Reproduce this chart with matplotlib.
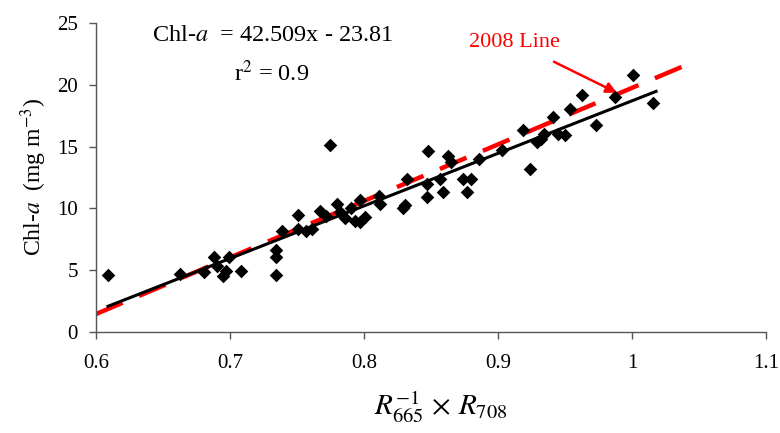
import matplotlib
matplotlib.use("Agg")
import matplotlib.pyplot as plt
import numpy as np

plt.rcParams['font.family'] = ['Liberation Serif', 'DejaVu Serif']
plt.rcParams['mathtext.fontset'] = 'stix'

# Data (ratio R665^-1 x R708, Chl-a mg m^-3)
ratio = [0.609, 0.663, 0.681, 0.688, 0.690, 0.695, 0.697, 0.699, 0.708,
         0.734, 0.734, 0.734, 0.739, 0.751, 0.751, 0.757, 0.761, 0.767,
         0.772, 0.775, 0.780, 0.782, 0.786, 0.790, 0.793, 0.797, 0.797,
         0.801, 0.811, 0.812, 0.829, 0.831, 0.832, 0.847, 0.847, 0.848,
         0.857, 0.859, 0.863, 0.865, 0.874, 0.877, 0.880, 0.886, 0.903,
         0.919, 0.924, 0.929, 0.932, 0.934, 0.941, 0.945, 0.950, 0.954,
         0.963, 0.973, 0.987, 1.001, 1.016]
chla = [4.65, 4.7, 4.86, 6.05, 5.3, 4.55, 4.9, 6.05, 4.95,
        6.6, 6.05, 4.65, 8.2, 9.5, 8.3, 8.2, 8.35, 9.8,
        9.4, 15.1, 10.35, 9.7, 9.2, 10.0, 9.0, 10.65, 8.9,
        9.3, 11.0, 10.35, 10.0, 10.3, 12.4, 11.95, 10.95, 14.65,
        12.4, 11.3, 14.25, 13.75, 12.4, 11.3, 12.4, 14.0, 14.7,
        16.3, 13.2, 15.35, 15.6, 16.0, 17.4, 16.0, 15.9, 18.05,
        19.2, 16.75, 19.0, 20.8, 18.5]

fit_slope, fit_intercept = 42.509, -23.81
fit_range = [0.609, 1.018]
line2008_x = [0.60, 1.046]
line2008_y = [1.45, 21.85]

fig = plt.figure(figsize=(7.8, 4.33), dpi=100)
ax = fig.add_axes([0.123, 0.2333, 0.859, 0.7137])

ax.plot(line2008_x, line2008_y, color='#ff0000', lw=3.2, dashes=(6.5, 4.0),
        solid_capstyle='butt', dash_capstyle='butt', zorder=2)
fx = np.array(fit_range)
ax.plot(fx, fit_slope * fx + fit_intercept, color='black', lw=2.2, zorder=3)
ax.scatter(ratio, chla, marker='D', s=48, color='black', zorder=4, linewidths=0)

ax.set_xlim(0.6, 1.1)
ax.set_ylim(0, 25)
ax.set_xticks([0.6, 0.7, 0.8, 0.9, 1.0, 1.1])
ax.set_xticklabels(['0.6', '0.7', '0.8', '0.9', '1', '1.1'])
ax.set_yticks([0, 5, 10, 15, 20, 25])
for s in ['top', 'right']:
    ax.spines[s].set_visible(False)
for s in ['left', 'bottom']:
    ax.spines[s].set_color('#555555')
    ax.spines[s].set_linewidth(1.0)
ax.tick_params(direction='out', length=5, width=1.0, color='#555555',
               labelsize=15)
ax.tick_params(axis='x', pad=11)
ax.tick_params(axis='y', pad=8)

ax.set_xlabel(r'$R_{665}^{-1}\,\times\, R_{708}$', fontsize=21)
ax.xaxis.set_label_coords(0.515, -0.185)
ax.set_ylabel(r'Chl-$a$  (mg m$^{-3}$)', fontsize=17, labelpad=6)

ax.text(0.732, 23.5, r'Chl-$a$  = 42.509x - 23.81', fontsize=17.5,
        ha='center', va='baseline')
ax.text(0.731, 20.3, r'r$^{2}$ = 0.9', fontsize=17.5, ha='center', va='baseline')

ax.annotate('2008 Line', xy=(0.9888, 19.35), xytext=(0.912, 23.45),
            color='#ff0000', fontsize=16, ha='center', va='center',
            arrowprops=dict(arrowstyle='-|>', color='#ff0000', lw=1.8,
                            mutation_scale=16, shrinkA=12, shrinkB=0))

fig.savefig('out.png', dpi=100)
